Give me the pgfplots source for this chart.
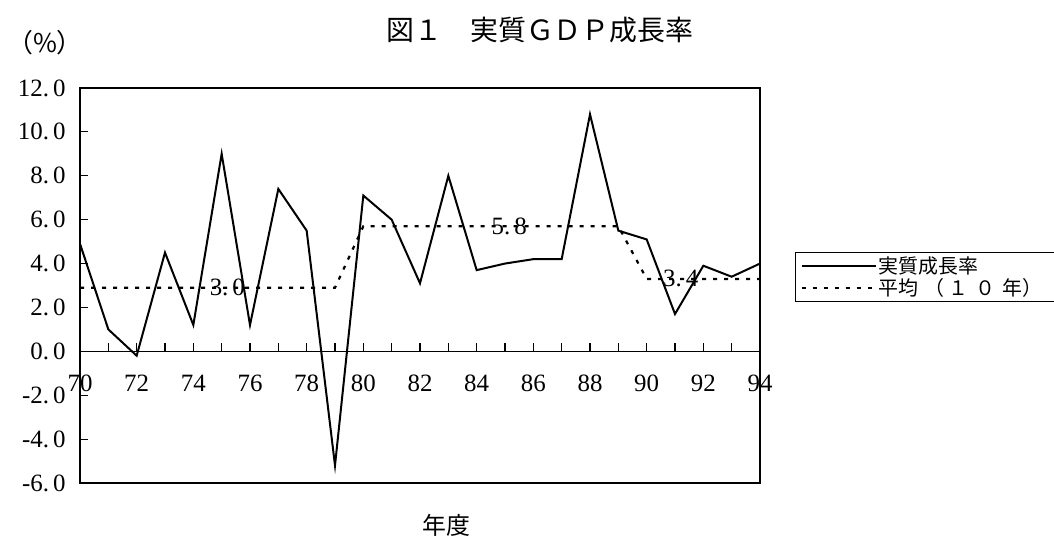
\documentclass[border=0pt]{standalone}
\usepackage{fontspec}
\setmainfont{Liberation Serif}
\newfontfamily\cjk{Noto Sans CJK JP}
\usepackage{pgfplots}
\pgfplotsset{compat=1.18}
\newcommand\tl[2]{#1.\kern4bp#2}
\begin{document}
\begin{tikzpicture}
\path[use as bounding box] (0,0) rectangle (1054bp,538bp);
\begin{axis}[
  at={(80bp,55bp)}, anchor=south west,
  width=680bp, height=395bp, scale only axis,
  xmin=70, xmax=94, ymin=-6, ymax=12,
  axis line style={line width=1.3bp},
  xtick=\empty,
  ytick={-6,-4,...,12},
  yticklabels={\tl{-6}{0},\tl{-4}{0},\tl{-2}{0},\tl{0}{0},\tl{2}{0},\tl{4}{0},\tl{6}{0},\tl{8}{0},\tl{10}{0},\tl{12}{0}},
  ytick pos=left, ytick align=inside,
  major tick length=8bp,
  tick style={line width=1.1bp, black},
  yticklabel style={font=\fontsize{25}{28}\selectfont, xshift=-11bp},
  extra y ticks={0}, extra y tick labels={},
  extra y tick style={grid=major, major grid style={black, line width=1.4bp}, major tick length=0pt},
  legend style={at={(1.0515,0.585)}, anchor=north west, draw=black, line width=1.1bp,
    font=\cjk\fontsize{20}{24}\selectfont, inner xsep=5bp, inner ysep=2bp,
    cells={anchor=west}},
  legend cell align=left,
  legend image code/.code={\draw[#1] (0bp,0bp) -- (74bp,0bp);},
]
\addplot[black, line width=2bp] coordinates {
(70,4.9) (71,1.0) (72,-0.2) (73,4.5) (74,1.2) (75,9.0) (76,1.2) (77,7.4) (78,5.5) (79,-5.2)
(80,7.1) (81,6.0) (82,3.1) (83,8.0) (84,3.7) (85,4.0) (86,4.2) (87,4.2) (88,10.8) (89,5.5)
(90,5.1) (91,1.7) (92,3.9) (93,3.4) (94,4.0)};
\addlegendentry{実質成長率}
\addplot[black, line width=2.2bp, dash pattern=on 4bp off 7bp] coordinates {
(70,2.9) (71,2.9) (72,2.9) (73,2.9) (74,2.9) (75,2.9) (76,2.9) (77,2.9) (78,2.9) (79,2.9)
(80,5.7) (81,5.7) (82,5.7) (83,5.7) (84,5.7) (85,5.7) (86,5.7) (87,5.7) (88,5.7) (89,5.7)
(90,3.3) (91,3.3) (92,3.3) (93,3.3) (94,3.3)};
\addlegendentry{平均\kern6bp（\kern4bp１\kern7bp０\kern7bp年）\kern8bp}
\node[font=\fontsize{25}{28}\selectfont] at (axis cs:75.2,2.9) {\tl{3}{0}};
\node[font=\fontsize{25}{28}\selectfont] at (axis cs:85.15,5.7) {\tl{5}{8}};
\node[font=\fontsize{25}{28}\selectfont] at (axis cs:91.2,3.3) {\tl{3}{4}};
\end{axis}
\begin{axis}[
  at={(80bp,55bp)}, anchor=south west,
  width=680bp, height=395bp, scale only axis,
  xmin=70, xmax=94, ymin=-6, ymax=12,
  axis x line=middle, axis y line=none,
  axis line style={-, line width=1.4bp},
  xtick={70,...,94},
  xticklabels={70,,72,,74,,76,,78,,80,,82,,84,,86,,88,,90,,92,,94},
  xtick align=inside,
  major tick length=8bp,
  tick style={line width=1.1bp, black},
  ytick=\empty,
  xticklabel style={font=\fontsize{25}{28}\selectfont, yshift=-20bp},
]
\end{axis}
\node[font=\cjk\fontsize{28}{32}\selectfont] at (540bp,508bp) {図１　実質ＧＤＰ成長率};
\node[font=\cjk\fontsize{26}{30}\selectfont] at (45bp,495bp) {（\%）};
\node[font=\cjk\fontsize{24}{28}\selectfont] at (446bp,13bp) {年度};
\end{tikzpicture}
\end{document}
